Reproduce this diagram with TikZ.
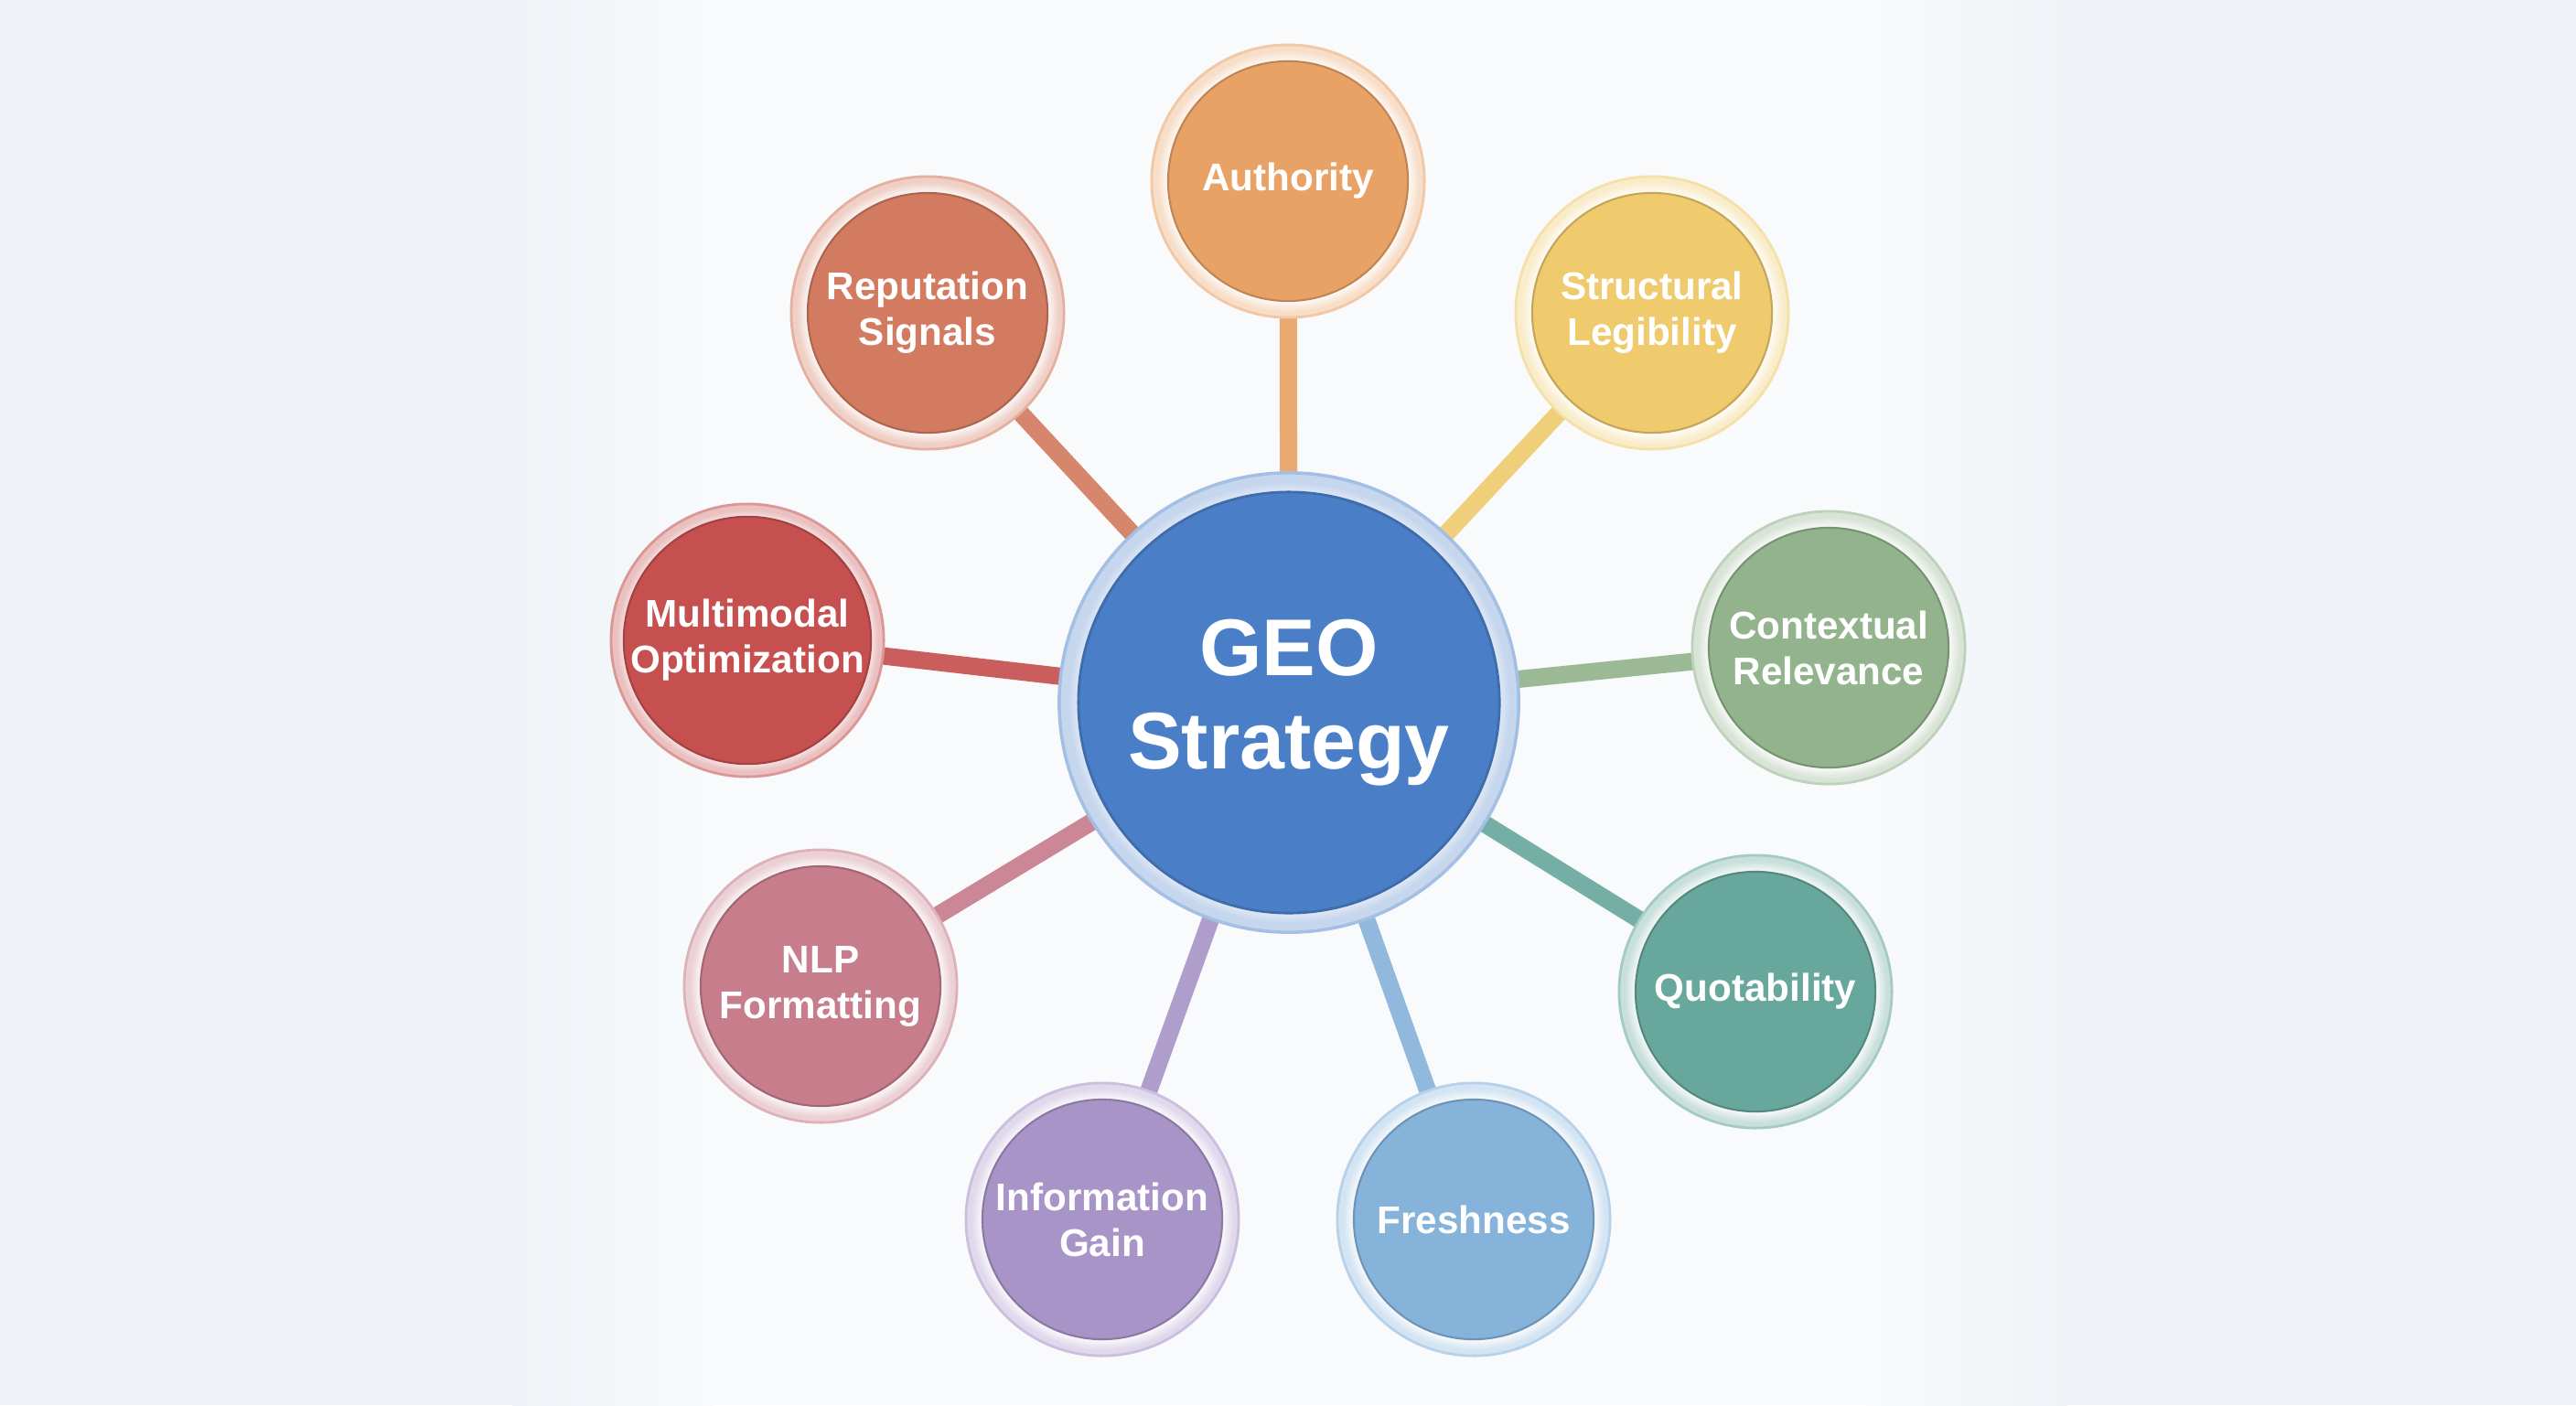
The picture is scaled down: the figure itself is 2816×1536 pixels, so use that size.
\documentclass[tikz,border=0pt]{standalone}
\usepackage{fontspec}
\setmainfont{Liberation Sans}
\pgfdeclarelayer{bglayer}
\pgfdeclarelayer{linelayer}
\pgfsetlayers{bglayer,linelayer,main}

\definecolor{bgout}{HTML}{EFF3F7}
\definecolor{bgin}{HTML}{F8FAFC}
\definecolor{cGeo}{HTML}{4A7FC8}
\definecolor{cAuth}{HTML}{E9A266}
\definecolor{cStruct}{HTML}{EFCB6E}
\definecolor{cCont}{HTML}{92B38C}
\definecolor{cQuot}{HTML}{68A79C}
\definecolor{cFresh}{HTML}{86B3DA}
\definecolor{cInfo}{HTML}{A894C7}
\definecolor{cNlp}{HTML}{C77D8C}
\definecolor{cMulti}{HTML}{C5504F}
\definecolor{cRep}{HTML}{D27B60}
\colorlet{ringtint}{cGeo!35!white}

\pgfdeclareradialshading[ringtint]{ringshade}{\pgfpoint{0bp}{0bp}}{%
  color(0bp)=(white); color(21bp)=(white); color(22bp)=(ringtint!15!white);
  color(24bp)=(ringtint); color(25bp)=(ringtint); color(50bp)=(ringtint)}

\tikzset{
  satring/.style={circle, minimum size=2.98cm, inner sep=0pt, shading=ringshade,
    line width=0.8pt},
  satcore/.style={circle, minimum size=2.62cm, inner sep=0pt, line width=0.6pt,
    text=white, align=center, font=\bfseries\fontsize{12}{14.2}\selectfont},
  geoRing/.style={circle, minimum size=5.02cm, inner sep=0pt, shading=ringshade,
    draw=cGeo!50!white, line width=1pt},
  geoCore/.style={circle, minimum size=4.60cm, inner sep=0pt, line width=0.8pt,
    fill=cGeo, draw=cGeo!85!black, text=white, align=center,
    font=\bfseries\fontsize{25}{29}\selectfont},
  conn/.style={line width=0.19cm}
}

\newcommand\satellite[5]{%
  \colorlet{ringtint}{#4!36!white}%
  \node[satring, draw=#4!60!white] (#1) at (#2,#3) {};
  \node[satcore, fill=#4, draw=#4!82!black] (#1core) at (#1) {#5};
}

\begin{document}
\begin{tikzpicture}[x=0.01cm, y=-0.01cm]
\useasboundingbox (0,0) rectangle (2816,1536);
\begin{pgfonlayer}{bglayer}
  \fill[bgout] (0,0) rectangle (2816,1536);
  \shade[left color=bgout, right color=bgin] (560,0) rectangle (780,1536);
  \fill[bgin] (780,0) rectangle (2040,1536);
  \shade[left color=bgin, right color=bgout] (2040,0) rectangle (2260,1536);
\end{pgfonlayer}

\colorlet{ringtint}{cGeo!32!white}
\node[geoRing] (G) at (1409,768) {};
\node[geoCore] (Gcore) at (G) {GEO\\Strategy};

\satellite{auth}{1408}{198}{cAuth}{Authority}
\satellite{struct}{1806}{342}{cStruct}{Structural\\Legibility}
\satellite{cont}{1999}{708}{cCont}{Contextual\\Relevance}
\satellite{quot}{1919}{1084}{cQuot}{Quotability}
\satellite{fresh}{1611}{1333}{cFresh}{Freshness}
\satellite{info}{1205}{1333}{cInfo}{Information\\Gain}
\satellite{nlp}{897}{1078}{cNlp}{NLP\\Formatting}
\satellite{multi}{817}{700}{cMulti}{Multimodal\\Optimization}
\satellite{rep}{1014}{342}{cRep}{Reputation\\Signals}

\begin{pgfonlayer}{linelayer}
  \draw[conn, draw=cAuth!92!white] (G.center) -- (auth.center);
  \draw[conn, draw=cStruct!92!white] (G.center) -- (struct.center);
  \draw[conn, draw=cCont!92!white] (G.center) -- (cont.center);
  \draw[conn, draw=cQuot!92!white] (G.center) -- (quot.center);
  \draw[conn, draw=cFresh!92!white] (G.center) -- (fresh.center);
  \draw[conn, draw=cInfo!92!white] (G.center) -- (info.center);
  \draw[conn, draw=cNlp!92!white] (G.center) -- (nlp.center);
  \draw[conn, draw=cMulti!92!white] (G.center) -- (multi.center);
  \draw[conn, draw=cRep!92!white] (G.center) -- (rep.center);
\end{pgfonlayer}
\end{tikzpicture}
\end{document}
